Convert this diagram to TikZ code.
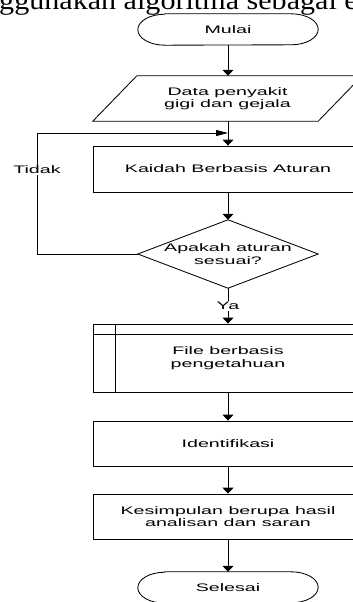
\documentclass[tikz,border=0pt]{standalone}
\usepackage{fontspec}
\setmainfont{Liberation Sans}
\newfontfamily\flowfont[FakeStretch=1.8]{Liberation Sans}
\newfontfamily\bodyfont[FakeStretch=1.115]{Liberation Serif}
\usetikzlibrary{arrows.meta,calc}
\begin{document}
\begin{tikzpicture}[x=1pt,y=-1pt,
  every node/.style={font=\flowfont\fontsize{10.9}{12.5}\selectfont, align=center, inner sep=0pt},
  ln/.style={line width=0.85pt, draw=black},
  box/.style={ln, draw, minimum width=270pt, minimum height=#1},
  ghost/.style={minimum width=#1},
  varr/.style={ln, -{Triangle[width=11pt,length=6pt]}},
  harr/.style={ln, -{Triangle[width=6pt,length=12pt]}},
  lbl/.style={fill=white, inner sep=1pt}]
\clip (0,0) rectangle (353,602);
\fill[white] (0,0) rectangle (353,602);

% heading fragment
\node[anchor=base west, font=\bodyfont\fontsize{27}{30}\selectfont] (head) at (-1,9.5) {ggunakan algoritma sebagai e};

% nodes
\node[ghost=180pt, minimum height=31pt] (mulai) at (228,29.5) {Mulai};
\node[ghost=269pt, minimum height=45pt] (data) at (227.5,98.5) {Data penyakit\\gigi dan gejala};
\node[box=46pt] (kaidah) at (228,169) {Kaidah Berbasis Aturan};
\node[ghost=180pt, minimum height=68pt] (cek) at (228,254) {Apakah aturan\\sesuai?};
\node[box=68pt] (file) at (228,358) {File berbasis\\pengetahuan};
\node[box=45pt] (ident) at (228,443.5) {Identifikasi};
\node[box=45pt] (simpul) at (228,516.5) {Kesimpulan berupa hasil\\analisan dan saran};
\node[ghost=180pt, minimum height=31pt] (selesai) at (228,587.5) {Selesai};

% shapes
\draw[ln] ([xshift=27pt]mulai.north west) -- ([xshift=-27pt]mulai.north east)
  arc[start angle=90,end angle=-90,x radius=27pt,y radius=15.5pt]
  -- ([xshift=27pt]mulai.south west)
  arc[start angle=270,end angle=90,x radius=27pt,y radius=15.5pt] -- cycle;
\draw[ln] ([xshift=27pt]selesai.north west) -- ([xshift=-27pt]selesai.north east)
  arc[start angle=90,end angle=-90,x radius=27pt,y radius=15.5pt]
  -- ([xshift=27pt]selesai.south west)
  arc[start angle=270,end angle=90,x radius=27pt,y radius=15.5pt] -- cycle;
\draw[ln] ($(data.north west)+(44pt,0pt)$) -- (data.north east)
  -- ($(data.south east)-(44pt,0pt)$) -- (data.south west) -- cycle;
\draw[ln] (cek.north) -- (cek.east) -- (cek.south) -- (cek.west) -- cycle;
\draw[ln] ([xshift=23pt]file.north west) -- ([xshift=23pt]file.south west);
\draw[ln] ([yshift=-11pt]file.north west) -- ([yshift=-11pt]file.north east);

% connectors
\draw[varr] (mulai.south) -- (mulai.south |- data.north);
\draw[varr] (mulai.south |- data.south) -- (kaidah.north);
\draw[varr] (kaidah.south) -- (cek.north);
\coordinate (lp) at (37,133);
\draw[harr] (cek.west) -| (lp) -- (kaidah.north |- lp);
\draw[varr] (cek.south) -- (file.north);
\draw[varr] (file.south) -- (ident.north);
\draw[varr] (ident.south) -- (simpul.north);
\draw[varr] (simpul.south) -- (selesai.north);

% labels
\node[lbl] (tidak) at (37,170) {Tidak};
\node[lbl] (ya) at (228,306) {Ya};
\end{tikzpicture}
\end{document}
